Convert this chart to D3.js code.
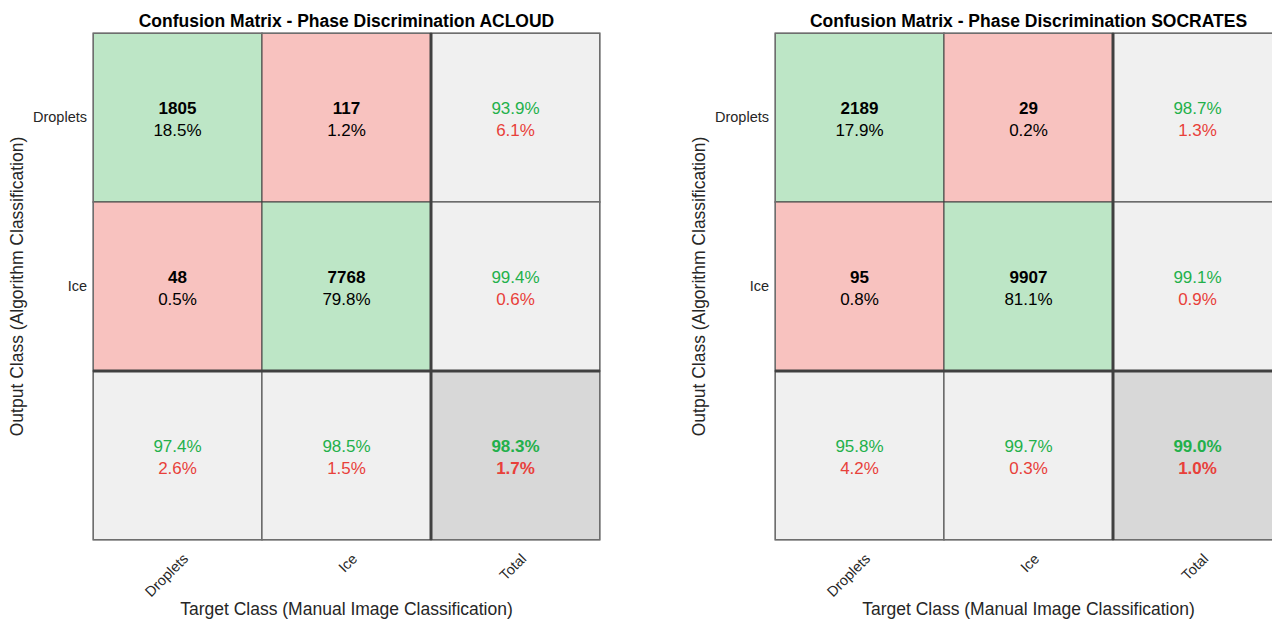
<!DOCTYPE html>
<html>
<head>
<meta charset="utf-8">
<script src="https://cdn.jsdelivr.net/npm/d3@7"></script>
<style>
  body { margin: 0; background: #fff; }
  svg { display: block; font-family: "Liberation Sans", Arial, Helvetica, sans-serif; }
</style>
</head>
<body>
<svg id="chart" width="1272" height="619"></svg>
<script>
// class names used on both axes
var classes = ['Droplets', 'Ice'];
var tickLabels = ['Droplets', 'Ice', 'Total'];

// raw counts, rows = output class, columns = target class
var acloudCounts = [[1805, 117], [48, 7768]];
var socratesCounts = [[2189, 29], [95, 9907]];

var panels = [
    { title: 'Confusion Matrix - Phase Discrimination ACLOUD', counts: acloudCounts, left: 93 },
    { title: 'Confusion Matrix - Phase Discrimination SOCRATES', counts: socratesCounts, left: 775 }
];

var size = 507, gridTop = 33;
var green = '#bde6c6', red = '#f8c2bf', grey = '#f0f0f0', totalGrey = '#d8d8d8';
var goodText = '#23b04b', badText = '#e8403a';

function pct(v) { return (v * 100).toFixed(1) + '%'; }

function buildCells(counts) {
    var n = classes.length, total = 0, cells = [];
    counts.forEach(function(r) { r.forEach(function(v) { total += v; }); });
    var correct = d3.sum(d3.range(n), function(i) { return counts[i][i]; });

    for (var r = 0; r < n; r++) {
        for (var c = 0; c < n; c++) {
            cells.push({ row: tickLabels[r], col: tickLabels[c], fill: r === c ? green : red,
                kind: 'count', count: counts[r][c], share: counts[r][c] / total });
        }
        // row summary (precision)
        var rowSum = d3.sum(counts[r]);
        cells.push({ row: tickLabels[r], col: 'Total', fill: grey, kind: 'rate',
            good: counts[r][r] / rowSum });
    }
    // column summary (recall)
    for (var c2 = 0; c2 < n; c2++) {
        var colSum = d3.sum(counts, function(rr) { return rr[c2]; });
        cells.push({ row: 'Total', col: tickLabels[c2], fill: grey, kind: 'rate',
            good: counts[c2][c2] / colSum });
    }
    cells.push({ row: 'Total', col: 'Total', fill: totalGrey, kind: 'rate', bold: true,
        good: correct / total });
    return cells;
}

var svg = d3.select('#chart');

panels.forEach(function(p) {
    var x = d3.scaleBand().domain(tickLabels).range([p.left, p.left + size]);
    var y = d3.scaleBand().domain(tickLabels).range([gridTop, gridTop + size]);
    var g = svg.append('g');
    var cells = buildCells(p.counts);

    // cell backgrounds
    g.selectAll('rect.cell').data(cells).enter()
        .append('rect')
        .attr('class', 'cell')
        .attr('x', function(d) { return x(d.col); })
        .attr('y', function(d) { return y(d.row); })
        .attr('width', x.bandwidth())
        .attr('height', y.bandwidth())
        .attr('fill', function(d) { return d.fill; })
        .attr('stroke', '#404040')
        .attr('stroke-width', 1);

    // outer border
    g.append('rect')
        .attr('x', p.left + 0.5).attr('y', gridTop + 0.5)
        .attr('width', size - 1).attr('height', size - 1)
        .attr('fill', 'none').attr('stroke', '#6e6e6e').attr('stroke-width', 1);

    // thick separators before the summary row / column
    g.append('line')
        .attr('x1', x('Total')).attr('x2', x('Total'))
        .attr('y1', gridTop).attr('y2', gridTop + size)
        .attr('stroke', '#404040').attr('stroke-width', 3);
    g.append('line')
        .attr('x1', p.left).attr('x2', p.left + size)
        .attr('y1', y('Total')).attr('y2', y('Total'))
        .attr('stroke', '#404040').attr('stroke-width', 3);

    // cell texts
    var txt = g.selectAll('g.txt').data(cells).enter()
        .append('g')
        .attr('class', 'txt')
        .attr('transform', function(d) {
            return 'translate(' + (x(d.col) + x.bandwidth() / 2) + ',' + (y(d.row) + y.bandwidth() / 2) + ')';
        })
        .attr('text-anchor', 'middle')
        .style('font-size', '17px');

    txt.append('text')
        .attr('y', -4)
        .attr('fill', function(d) { return d.kind === 'count' ? '#000' : goodText; })
        .attr('font-weight', function(d) { return d.kind === 'count' || d.bold ? 'bold' : 'normal'; })
        .text(function(d) { return d.kind === 'count' ? d.count : pct(d.good); });

    txt.append('text')
        .attr('y', 18)
        .attr('fill', function(d) { return d.kind === 'count' ? '#000' : badText; })
        .attr('font-weight', function(d) { return d.bold ? 'bold' : 'normal'; })
        .text(function(d) { return d.kind === 'count' ? pct(d.share) : pct(1 - d.good); });

    // y tick labels (only the classes)
    var yAxis = g.append('g')
        .attr('transform', 'translate(' + (p.left - 6) + ',0)')
        .call(d3.axisLeft(y).tickSize(0).tickFormat(function(d) { return d === 'Total' ? '' : d; }));
    yAxis.select('.domain').remove();
    yAxis.selectAll('text')
        .attr('x', 0)
        .style('font-size', '14.5px')
        .style('font-family', '"Liberation Sans", Arial, sans-serif')
        .attr('fill', '#262626');

    // x tick labels rotated 45 degrees
    var xAxis = g.append('g')
        .attr('transform', 'translate(0,' + (gridTop + size) + ')')
        .call(d3.axisBottom(x).tickSize(0));
    xAxis.select('.domain').remove();
    xAxis.selectAll('text')
        .style('font-size', '14.5px')
        .style('font-family', '"Liberation Sans", Arial, sans-serif')
        .attr('fill', '#262626')
        .attr('text-anchor', 'end')
        .attr('x', 0).attr('y', 0).attr('dy', '0.75em')
        .attr('transform', 'translate(4,12) rotate(-45)');

    // title and axis labels
    g.append('text')
        .attr('x', p.left + size / 2).attr('y', 27)
        .attr('text-anchor', 'middle')
        .style('font-size', '17.5px').style('font-weight', 'bold')
        .attr('fill', '#000')
        .text(p.title);

    g.append('text')
        .attr('x', p.left + size / 2).attr('y', 615)
        .attr('text-anchor', 'middle')
        .style('font-size', '17.5px')
        .attr('fill', '#262626')
        .text('Target Class (Manual Image Classification)');

    g.append('text')
        .attr('transform', 'translate(' + (p.left - 70.5) + ',' + (gridTop + size / 2) + ') rotate(-90)')
        .attr('text-anchor', 'middle')
        .style('font-size', '17.5px')
        .attr('fill', '#262626')
        .text('Output Class (Algorithm Classification)');
});
</script>
</body>
</html>
